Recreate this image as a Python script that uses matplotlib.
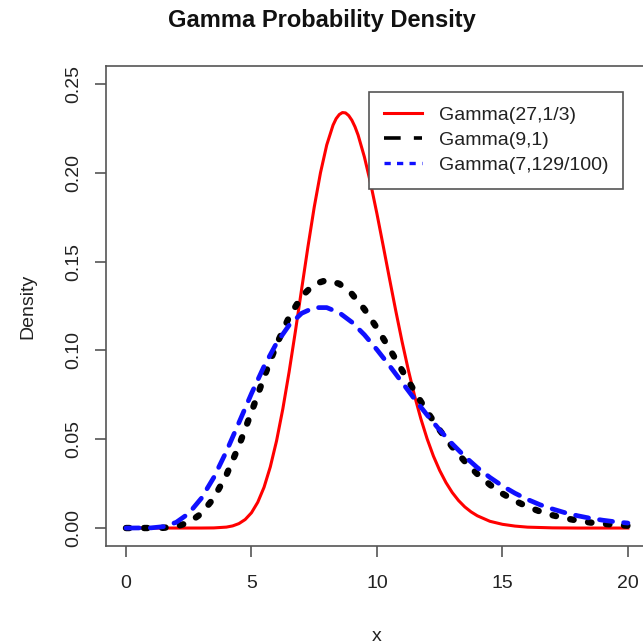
import matplotlib
matplotlib.use("Agg")
import matplotlib.pyplot as plt
from matplotlib.lines import Line2D

plt.rcParams["font.family"] = ["Liberation Sans", "DejaVu Sans"]
plt.rcParams["lines.scale_dashes"] = False

# densities
x_red = [0, 1, 2, 3, 3.5, 4, 4.25, 4.5, 4.75, 5, 5.25, 5.5, 5.75, 6, 6.25, 6.5,
         6.75, 7, 7.25, 7.5, 7.75, 8, 8.25, 8.375, 8.5, 8.625, 8.75, 8.875, 9,
         9.125, 9.25, 9.5, 9.75, 10, 10.25, 10.5, 10.75, 11, 11.25, 11.5, 11.75,
         12, 12.25, 12.5, 12.75, 13, 13.25, 13.5, 13.75, 14, 14.5, 15, 15.5, 16,
         17, 18, 19, 20]
y_red = [0, 0, 0, 0.000006, 0.00007, 0.00052, 0.0012, 0.0025, 0.0048, 0.0086,
         0.0145, 0.0229, 0.0344, 0.0491, 0.0671, 0.0879, 0.1107, 0.1346, 0.1583,
         0.1806, 0.2000, 0.2157, 0.2268, 0.2305, 0.2328, 0.2339, 0.2337, 0.2322,
         0.2296, 0.2259, 0.2212, 0.2089, 0.1939, 0.1769, 0.1588, 0.1404, 0.1223,
         0.1050, 0.0890, 0.0744, 0.0615, 0.0502, 0.0405, 0.0324, 0.0256, 0.0200,
         0.0155, 0.0119, 0.0091, 0.0069, 0.0038, 0.0021, 0.0011, 0.0005, 0.0001,
         0, 0, 0]

x_black = [0, 1, 1.5, 2, 2.5, 3, 3.5, 4, 4.5, 5, 5.5, 6, 6.5, 7, 7.5, 8, 8.5, 9,
           9.5, 10, 10.5, 11, 11.5, 12, 12.5, 13, 13.5, 14, 14.5, 15, 15.5, 16,
           16.5, 17, 17.5, 18, 18.5, 19, 19.5, 20]
y_black = [0, 0.00001, 0.00014, 0.00086, 0.0031, 0.0081, 0.0169, 0.0298, 0.0463,
           0.0653, 0.0849, 0.1033, 0.1188, 0.1304, 0.1373, 0.1396, 0.1375, 0.1318,
           0.1232, 0.1126, 0.1009, 0.0888, 0.0769, 0.0655, 0.0551, 0.0457, 0.0375,
           0.0304, 0.0244, 0.0194, 0.0153, 0.0120, 0.0093, 0.0072, 0.0055, 0.0042,
           0.0031, 0.0024, 0.0018, 0.0013]

x_blue = [0, 1, 1.5, 2, 2.5, 3, 3.5, 4, 4.5, 5, 5.5, 6, 6.5, 7, 7.5, 8, 8.5, 9,
          9.5, 10, 10.5, 11, 11.5, 12, 12.5, 13, 13.5, 14, 14.5, 15, 15.5, 16,
          16.5, 17, 17.5, 18, 18.5, 19, 19.5, 20]
y_blue = [0, 0.0001, 0.0008, 0.0032, 0.0082, 0.0167, 0.0285, 0.0431, 0.0593,
          0.0757, 0.0910, 0.1041, 0.1142, 0.1209, 0.1241, 0.1241, 0.1212, 0.1159,
          0.1088, 0.1004, 0.0914, 0.0820, 0.0726, 0.0636, 0.0552, 0.0474, 0.0403,
          0.0340, 0.0285, 0.0237, 0.0196, 0.0161, 0.0131, 0.0107, 0.0086, 0.0069,
          0.0055, 0.0044, 0.0035, 0.0028]

labels = ["Gamma(27,1/3)", "Gamma(9,1)", "Gamma(7,129/100)"]
x_ticks = [0, 5, 10, 15, 20]
y_ticks = [0.00, 0.05, 0.10, 0.15, 0.20, 0.25]

W, H = 643, 644
fig = plt.figure(figsize=(W / 100, H / 100), dpi=100)
ax = fig.add_axes([105.9 / W, 1 - 545.8 / H, (648 - 105.9) / W, (545.8 - 66.2) / H])

ax.plot(x_red, y_red, color="red", lw=2.2, zorder=3)
ax.plot(x_black, y_black, color="black", lw=4.6, dashes=(2.5, 10.5),
        dash_capstyle="round", zorder=4)
ax.plot(x_blue, y_blue, color="#1010ff", lw=3.4, dashes=(9.5, 8),
        dash_capstyle="round", zorder=5)

ax.set_xlim(-0.8, 20.8)
ax.set_ylim(-0.01, 0.26)
ax.set_xticks(x_ticks)
ax.set_yticks(y_ticks)
ax.set_xticklabels([str(v) for v in x_ticks])
ax.set_yticklabels(["%.2f" % v for v in y_ticks], rotation=90, va="center")

edge = "#555555"
for s in ax.spines.values():
    s.set_color(edge)
    s.set_linewidth(1.2)
ax.tick_params(axis="both", length=8, width=1.2, color=edge, labelsize=14,
               labelcolor="#222222")
ax.tick_params(axis="x", pad=13)
ax.tick_params(axis="y", pad=9)

ax.set_xlabel("x", fontsize=14, color="#222222", labelpad=26)
ax.set_ylabel("Density", fontsize=14, color="#222222", labelpad=21)

fig.text(322 / W, 1 - 21 / H, "Gamma Probability Density", ha="center",
         va="center", fontsize=17, fontweight="bold", color="#111111")

handles = [
    Line2D([], [], color="red", lw=2.2),
    Line2D([], [], color="black", lw=2.6, dashes=(12, 9.5)),
    Line2D([], [], color="#1010ff", lw=2.4, dashes=(4.5, 4.5)),
]
leg = ax.legend(handles, labels, loc="upper left",
                bbox_to_anchor=(369 / W, 1 - 92 / H),
                bbox_transform=fig.transFigure, borderaxespad=0,
                fontsize=14, fancybox=False, edgecolor=edge, framealpha=1,
                handlelength=2.0, handletextpad=0.85, borderpad=0.75,
                labelspacing=0.38)
leg.get_frame().set_linewidth(1.2)
for t in leg.get_texts():
    t.set_color("#222222")

fig.savefig("out.png", dpi=100)
